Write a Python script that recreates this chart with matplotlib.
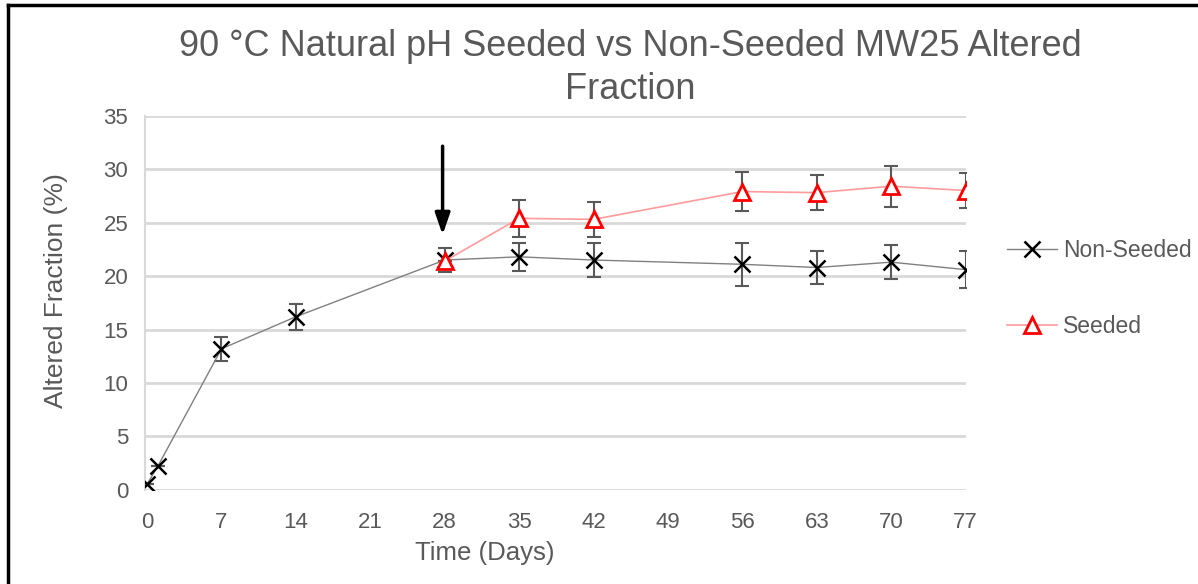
import matplotlib.pyplot as plt
from matplotlib.lines import Line2D

plt.rcParams['font.family'] = ['Liberation Sans', 'DejaVu Sans']

# data
days_ns = [0, 1, 7, 14, 28, 35, 42, 56, 63, 70, 77]
non_seeded = [0.55, 2.2, 13.2, 16.2, 21.5, 21.8, 21.5, 21.1, 20.8, 21.3, 20.6]
non_seeded_err = [0, 0, 1.1, 1.2, 1.1, 1.3, 1.55, 2.0, 1.55, 1.6, 1.75]

days_s = [28, 35, 42, 56, 63, 70, 77]
seeded = [21.4, 25.4, 25.3, 27.9, 27.8, 28.4, 28.0]
seeded_err = [0, 1.75, 1.65, 1.8, 1.65, 1.9, 1.65]

xticks = [0, 7, 14, 21, 28, 35, 42, 49, 56, 63, 70, 77]
yticks = [0, 5, 10, 15, 20, 25, 30, 35]

txt = '#595959'
grid = '#d9d9d9'

fig = plt.figure(figsize=(11.98, 5.84), dpi=100)
ax = fig.add_axes([0.121, 0.161, 0.685, 0.641])

ax.errorbar(days_ns, non_seeded, yerr=non_seeded_err, fmt='none',
            ecolor='#595959', elinewidth=1.5, capsize=5, capthick=1.5, zorder=2)
ax.errorbar(days_s, seeded, yerr=seeded_err, fmt='none',
            ecolor='#595959', elinewidth=1.5, capsize=5, capthick=1.5, zorder=2)
ax.plot(days_ns, non_seeded, color='#808080', lw=1, marker='x', ms=11,
        mec='black', mew=1.8, zorder=3)
ax.plot(days_s, seeded, color='#ff9b9b', lw=1.2, marker='^', ms=11,
        mec='red', mfc='white', mew=2, zorder=4)

ax.annotate('', xy=(27.8, 23.6), xytext=(27.8, 32.4),
            arrowprops=dict(arrowstyle='-|>,head_width=0.45,head_length=1.3',
                            color='black', lw=2.5))

ax.set_xlim(-0.2, 77)
ax.set_ylim(0, 35)
ax.set_xticks(xticks)
ax.set_yticks(yticks)
ax.tick_params(axis='both', length=0, labelsize=16, labelcolor=txt)
ax.tick_params(axis='x', pad=16)
ax.tick_params(axis='y', pad=12)
ax.grid(axis='y', color=grid, lw=2)
ax.set_axisbelow(True)
for s in ['top', 'right', 'bottom']:
    ax.spines[s].set_visible(False)
ax.spines['left'].set_color(grid)
ax.spines['left'].set_linewidth(1.5)

fig.text(0.526, 0.92, '90 °C Natural pH Seeded vs Non-Seeded MW25 Altered',
         ha='center', va='center', fontsize=26, color=txt)
fig.text(0.526, 0.846, 'Fraction', ha='center', va='center', fontsize=26, color=txt)
fig.text(0.405, 0.053, 'Time (Days)', ha='center', va='center', fontsize=18.5, color=txt)
fig.text(0.047, 0.503, 'Altered Fraction (%)', ha='center', va='center',
         rotation=90, fontsize=19, color=txt)

handles = [Line2D([], [], color='#808080', lw=1, marker='x', ms=11, mec='black', mew=1.8),
           Line2D([], [], color='#ff9b9b', lw=1.2, marker='^', ms=11, mec='red',
                  mfc='white', mew=2)]
leg = fig.legend(handles, ['Non-Seeded', 'Seeded'], loc='center left',
                 bbox_to_anchor=(0.823, 0.506), frameon=False, fontsize=16.5,
                 labelspacing=2.3, handlelength=2.2, handletextpad=0.25)
for t in leg.get_texts():
    t.set_color(txt)

# frame around the picture (left and top edges only visible)
fig.add_artist(Line2D([0.007, 0.007], [0, 0.991], color='black', lw=2.5,
                      transform=fig.transFigure))
fig.add_artist(Line2D([0.007, 1.0], [0.991, 0.991], color='black', lw=2.5,
                      transform=fig.transFigure))

fig.savefig('out.png', dpi=100)
